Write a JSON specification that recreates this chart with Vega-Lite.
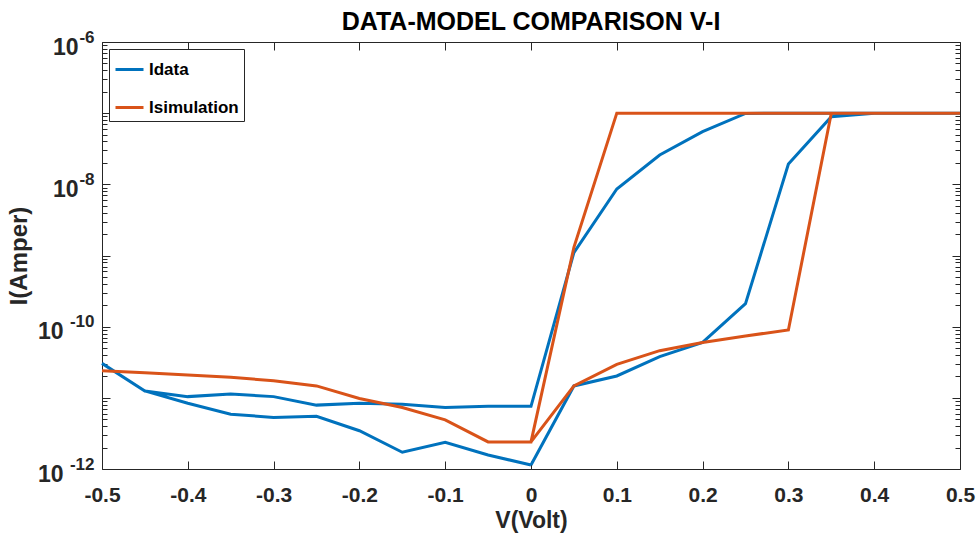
{
  "$schema": "https://vega.github.io/schema/vega-lite/v6.json",
  "width": 858,
  "height": 427,
  "autosize": {"type": "none"},
  "padding": {"left": 102, "top": 42, "right": 19, "bottom": 70},
  "background": "white",
  "title": {"text": "DATA-MODEL COMPARISON V-I", "font": "Liberation Sans", "fontSize": 25, "fontWeight": "bold", "color": "#000000", "offset": 8, "dy": 15, "anchor": "middle"},
  "config": {
    "view": {"stroke": "#262626", "strokeWidth": 1},
    "axis": {"grid": false, "domain": false, "tickColor": "#262626", "tickWidth": 1, "labelColor": "#262626", "titleColor": "#262626", "labelFont": "Liberation Sans", "labelFontWeight": "bold", "titleFont": "Liberation Sans", "titleFontWeight": "bold", "labelOverlap": false, "labelFlush": false}
  },
  "data": {"values": [
    {"s": "Idata", "i": 0, "V": 0, "I": 1.14e-12},
    {"s": "Idata", "i": 1, "V": 0.05, "I": 1.47e-11},
    {"s": "Idata", "i": 2, "V": 0.1, "I": 2.03e-11},
    {"s": "Idata", "i": 3, "V": 0.15, "I": 3.8e-11},
    {"s": "Idata", "i": 4, "V": 0.2, "I": 6.0e-11},
    {"s": "Idata", "i": 5, "V": 0.25, "I": 2.1e-10},
    {"s": "Idata", "i": 6, "V": 0.3, "I": 1.93e-8},
    {"s": "Idata", "i": 7, "V": 0.35, "I": 8.9e-8},
    {"s": "Idata", "i": 8, "V": 0.4, "I": 1.0e-7},
    {"s": "Idata", "i": 9, "V": 0.45, "I": 1.0e-7},
    {"s": "Idata", "i": 10, "V": 0.5, "I": 1.0e-7},
    {"s": "Idata", "i": 11, "V": 0.45, "I": 1.0e-7},
    {"s": "Idata", "i": 12, "V": 0.4, "I": 1.0e-7},
    {"s": "Idata", "i": 13, "V": 0.35, "I": 1.0e-7},
    {"s": "Idata", "i": 14, "V": 0.3, "I": 1.0e-7},
    {"s": "Idata", "i": 15, "V": 0.25, "I": 0.99e-7},
    {"s": "Idata", "i": 16, "V": 0.2, "I": 5.5e-8},
    {"s": "Idata", "i": 17, "V": 0.15, "I": 2.58e-8},
    {"s": "Idata", "i": 18, "V": 0.1, "I": 8.6e-9},
    {"s": "Idata", "i": 19, "V": 0.05, "I": 1.1e-9},
    {"s": "Idata", "i": 20, "V": 0, "I": 7.6e-12},
    {"s": "Idata", "i": 21, "V": -0.05, "I": 7.6e-12},
    {"s": "Idata", "i": 22, "V": -0.1, "I": 7.3e-12},
    {"s": "Idata", "i": 23, "V": -0.15, "I": 8.1e-12},
    {"s": "Idata", "i": 24, "V": -0.2, "I": 8.4e-12},
    {"s": "Idata", "i": 25, "V": -0.25, "I": 7.9e-12},
    {"s": "Idata", "i": 26, "V": -0.3, "I": 1.04e-11},
    {"s": "Idata", "i": 27, "V": -0.35, "I": 1.13e-11},
    {"s": "Idata", "i": 28, "V": -0.4, "I": 1.04e-11},
    {"s": "Idata", "i": 29, "V": -0.45, "I": 1.25e-11},
    {"s": "Idata", "i": 30, "V": -0.5, "I": 3.05e-11},
    {"s": "Idata", "i": 31, "V": -0.45, "I": 1.25e-11},
    {"s": "Idata", "i": 32, "V": -0.4, "I": 8.4e-12},
    {"s": "Idata", "i": 33, "V": -0.35, "I": 5.9e-12},
    {"s": "Idata", "i": 34, "V": -0.3, "I": 5.3e-12},
    {"s": "Idata", "i": 35, "V": -0.25, "I": 5.5e-12},
    {"s": "Idata", "i": 36, "V": -0.2, "I": 3.45e-12},
    {"s": "Idata", "i": 37, "V": -0.15, "I": 1.72e-12},
    {"s": "Idata", "i": 38, "V": -0.1, "I": 2.37e-12},
    {"s": "Idata", "i": 39, "V": -0.05, "I": 1.57e-12},
    {"s": "Idata", "i": 40, "V": 0, "I": 1.14e-12},
    {"s": "Isimulation", "i": 0, "V": 0, "I": 2.4e-12},
    {"s": "Isimulation", "i": 1, "V": 0.05, "I": 1.47e-11},
    {"s": "Isimulation", "i": 2, "V": 0.1, "I": 2.96e-11},
    {"s": "Isimulation", "i": 3, "V": 0.15, "I": 4.6e-11},
    {"s": "Isimulation", "i": 4, "V": 0.2, "I": 6.0e-11},
    {"s": "Isimulation", "i": 5, "V": 0.25, "I": 7.4e-11},
    {"s": "Isimulation", "i": 6, "V": 0.3, "I": 9.0e-11},
    {"s": "Isimulation", "i": 7, "V": 0.35, "I": 1.0e-7},
    {"s": "Isimulation", "i": 8, "V": 0.4, "I": 1.0e-7},
    {"s": "Isimulation", "i": 9, "V": 0.45, "I": 1.0e-7},
    {"s": "Isimulation", "i": 10, "V": 0.5, "I": 1.0e-7},
    {"s": "Isimulation", "i": 11, "V": 0.45, "I": 1.0e-7},
    {"s": "Isimulation", "i": 12, "V": 0.4, "I": 1.0e-7},
    {"s": "Isimulation", "i": 13, "V": 0.35, "I": 1.0e-7},
    {"s": "Isimulation", "i": 14, "V": 0.3, "I": 1.0e-7},
    {"s": "Isimulation", "i": 15, "V": 0.25, "I": 1.0e-7},
    {"s": "Isimulation", "i": 16, "V": 0.2, "I": 1.0e-7},
    {"s": "Isimulation", "i": 17, "V": 0.15, "I": 1.0e-7},
    {"s": "Isimulation", "i": 18, "V": 0.1, "I": 1.0e-7},
    {"s": "Isimulation", "i": 19, "V": 0.05, "I": 1.3e-9},
    {"s": "Isimulation", "i": 20, "V": 0, "I": 2.4e-12},
    {"s": "Isimulation", "i": 21, "V": -0.05, "I": 2.4e-12},
    {"s": "Isimulation", "i": 22, "V": -0.1, "I": 4.9e-12},
    {"s": "Isimulation", "i": 23, "V": -0.15, "I": 7.3e-12},
    {"s": "Isimulation", "i": 24, "V": -0.2, "I": 9.8e-12},
    {"s": "Isimulation", "i": 25, "V": -0.25, "I": 1.47e-11},
    {"s": "Isimulation", "i": 26, "V": -0.3, "I": 1.74e-11},
    {"s": "Isimulation", "i": 27, "V": -0.35, "I": 1.94e-11},
    {"s": "Isimulation", "i": 28, "V": -0.4, "I": 2.1e-11},
    {"s": "Isimulation", "i": 29, "V": -0.45, "I": 2.25e-11},
    {"s": "Isimulation", "i": 30, "V": -0.5, "I": 2.4e-11},
    {"s": "Isimulation", "i": 31, "V": -0.45, "I": 2.25e-11},
    {"s": "Isimulation", "i": 32, "V": -0.4, "I": 2.1e-11},
    {"s": "Isimulation", "i": 33, "V": -0.35, "I": 1.94e-11},
    {"s": "Isimulation", "i": 34, "V": -0.3, "I": 1.74e-11},
    {"s": "Isimulation", "i": 35, "V": -0.25, "I": 1.47e-11},
    {"s": "Isimulation", "i": 36, "V": -0.2, "I": 9.8e-12},
    {"s": "Isimulation", "i": 37, "V": -0.15, "I": 7.3e-12},
    {"s": "Isimulation", "i": 38, "V": -0.1, "I": 4.9e-12},
    {"s": "Isimulation", "i": 39, "V": -0.05, "I": 2.4e-12},
    {"s": "Isimulation", "i": 40, "V": 0, "I": 2.4e-12}
  ]},
  "resolve": {"axis": {"x": "independent", "y": "independent"}},
  "layer": [
    {
      "mark": {"type": "line", "strokeWidth": 3},
      "encoding": {
        "x": {"field": "V", "type": "quantitative", "scale": {"domain": [-0.5, 0.5], "nice": false, "zero": false},
          "axis": {"orient": "bottom", "values": [-0.5, -0.4, -0.3, -0.2, -0.1, 0, 0.1, 0.2, 0.3, 0.4, 0.5], "tickSize": -8, "labelPadding": 23, "labelFontSize": 21,
            "labelExpr": "(datum.value < 0 ? '-' : '') + format(abs(datum.value), '~g')",
            "title": "V(Volt)", "titleFontSize": 23, "titlePadding": 4}},
        "y": {"field": "I", "type": "quantitative", "scale": {"type": "log", "domain": [1e-12, 1e-6], "nice": false},
          "axis": {"orient": "left", "values": [1e-12, 1e-11, 1e-10, 1e-9, 1e-8, 1e-7, 1e-6], "tickSize": -8, "labelPadding": 47, "labelFontSize": 23, "labelAlign": "right", "labelBaseline": "middle", "labelOffset": 5,
            "labelExpr": "(datum.value < 3e-9 && round(log(datum.value)/LN10) % 2 == 0) ? '10' : ''",
            "title": "I(Amper)", "titleFontSize": 24, "titlePadding": 6}},
        "color": {"field": "s", "type": "nominal", "scale": {"domain": ["Idata", "Isimulation"], "range": ["#0072BD", "#D95319"]},
          "legend": {"orient": "top-left", "offset": 7, "title": null, "padding": 5, "symbolType": "stroke", "symbolSize": 784, "symbolStrokeWidth": 3, "labelFontSize": 17, "labelFont": "Liberation Sans", "labelFontWeight": "bold", "labelColor": "#000000", "labelOffset": 4, "rowPadding": 14, "strokeColor": "#262626", "fillColor": "white"}},
        "order": {"field": "i", "type": "quantitative"}
      }
    },
    {
      "mark": {"type": "line", "opacity": 0},
      "encoding": {
        "x": {"field": "V", "type": "quantitative", "scale": {"domain": [-0.5, 0.5], "nice": false, "zero": false},
          "axis": {"orient": "top", "values": [-0.5, -0.4, -0.3, -0.2, -0.1, 0, 0.1, 0.2, 0.3, 0.4, 0.5], "tickSize": -8, "labels": false, "title": null}},
        "y": {"field": "I", "type": "quantitative", "scale": {"type": "log", "domain": [1e-12, 1e-6], "nice": false},
          "axis": {"orient": "right", "values": [1e-12, 1e-11, 1e-10, 1e-9, 1e-8, 1e-7, 1e-6], "tickSize": -8, "labels": false, "title": null}},
        "detail": {"field": "s"},
        "order": {"field": "i", "type": "quantitative"}
      }
    },
    {
      "mark": {"type": "line", "opacity": 0},
      "encoding": {
        "x": {"field": "V", "type": "quantitative", "scale": {"domain": [-0.5, 0.5], "nice": false, "zero": false}, "axis": null},
        "y": {"field": "I", "type": "quantitative", "scale": {"type": "log", "domain": [1e-12, 1e-6], "nice": false},
          "axis": {"orient": "left", "values": [1e-8, 1e-6], "ticks": false, "tickSize": 0, "labelPadding": 24, "labelFontSize": 23, "labelAlign": "right", "labelBaseline": "middle", "labelOffset": 5,
            "labelExpr": "'10'", "title": null}},
        "detail": {"field": "s"},
        "order": {"field": "i", "type": "quantitative"}
      }
    },
    {
      "mark": {"type": "line", "opacity": 0},
      "encoding": {
        "x": {"field": "V", "type": "quantitative", "scale": {"domain": [-0.5, 0.5], "nice": false, "zero": false}, "axis": null},
        "y": {"field": "I", "type": "quantitative", "scale": {"type": "log", "domain": [1e-12, 1e-6], "nice": false},
          "axis": {"orient": "left", "values": [1e-12, 1e-10, 1e-8, 1e-6], "ticks": false, "tickSize": 0, "labelPadding": 8, "labelFontSize": 17, "labelAlign": "right", "labelBaseline": "middle", "labelOffset": -5,
            "labelExpr": "'-' + (-round(log(datum.value)/LN10))", "title": null}},
        "detail": {"field": "s"},
        "order": {"field": "i", "type": "quantitative"}
      }
    },
    {
      "mark": {"type": "line", "opacity": 0},
      "encoding": {
        "x": {"field": "V", "type": "quantitative", "scale": {"domain": [-0.5, 0.5], "nice": false, "zero": false}, "axis": null},
        "y": {"field": "I", "type": "quantitative", "scale": {"type": "log", "domain": [1e-12, 1e-6], "nice": false},
          "axis": {"orient": "left", "values": [2e-12, 3e-12, 4e-12, 5e-12, 6e-12, 7e-12, 8e-12, 9e-12, 2e-11, 3e-11, 4e-11, 5e-11, 6e-11, 7e-11, 8e-11, 9e-11, 2e-10, 3e-10, 4e-10, 5e-10, 6e-10, 7e-10, 8e-10, 9e-10, 2e-9, 3e-9, 4e-9, 5e-9, 6e-9, 7e-9, 8e-9, 9e-9, 2e-8, 3e-8, 4e-8, 5e-8, 6e-8, 7e-8, 8e-8, 9e-8, 2e-7, 3e-7, 4e-7, 5e-7, 6e-7, 7e-7, 8e-7, 9e-7], "tickSize": -5, "labels": false, "title": null}},
        "detail": {"field": "s"},
        "order": {"field": "i", "type": "quantitative"}
      }
    },
    {
      "mark": {"type": "line", "opacity": 0},
      "encoding": {
        "x": {"field": "V", "type": "quantitative", "scale": {"domain": [-0.5, 0.5], "nice": false, "zero": false}, "axis": null},
        "y": {"field": "I", "type": "quantitative", "scale": {"type": "log", "domain": [1e-12, 1e-6], "nice": false},
          "axis": {"orient": "right", "values": [2e-12, 3e-12, 4e-12, 5e-12, 6e-12, 7e-12, 8e-12, 9e-12, 2e-11, 3e-11, 4e-11, 5e-11, 6e-11, 7e-11, 8e-11, 9e-11, 2e-10, 3e-10, 4e-10, 5e-10, 6e-10, 7e-10, 8e-10, 9e-10, 2e-9, 3e-9, 4e-9, 5e-9, 6e-9, 7e-9, 8e-9, 9e-9, 2e-8, 3e-8, 4e-8, 5e-8, 6e-8, 7e-8, 8e-8, 9e-8, 2e-7, 3e-7, 4e-7, 5e-7, 6e-7, 7e-7, 8e-7, 9e-7], "tickSize": -5, "labels": false, "title": null}},
        "detail": {"field": "s"},
        "order": {"field": "i", "type": "quantitative"}
      }
    }
  ]
}
